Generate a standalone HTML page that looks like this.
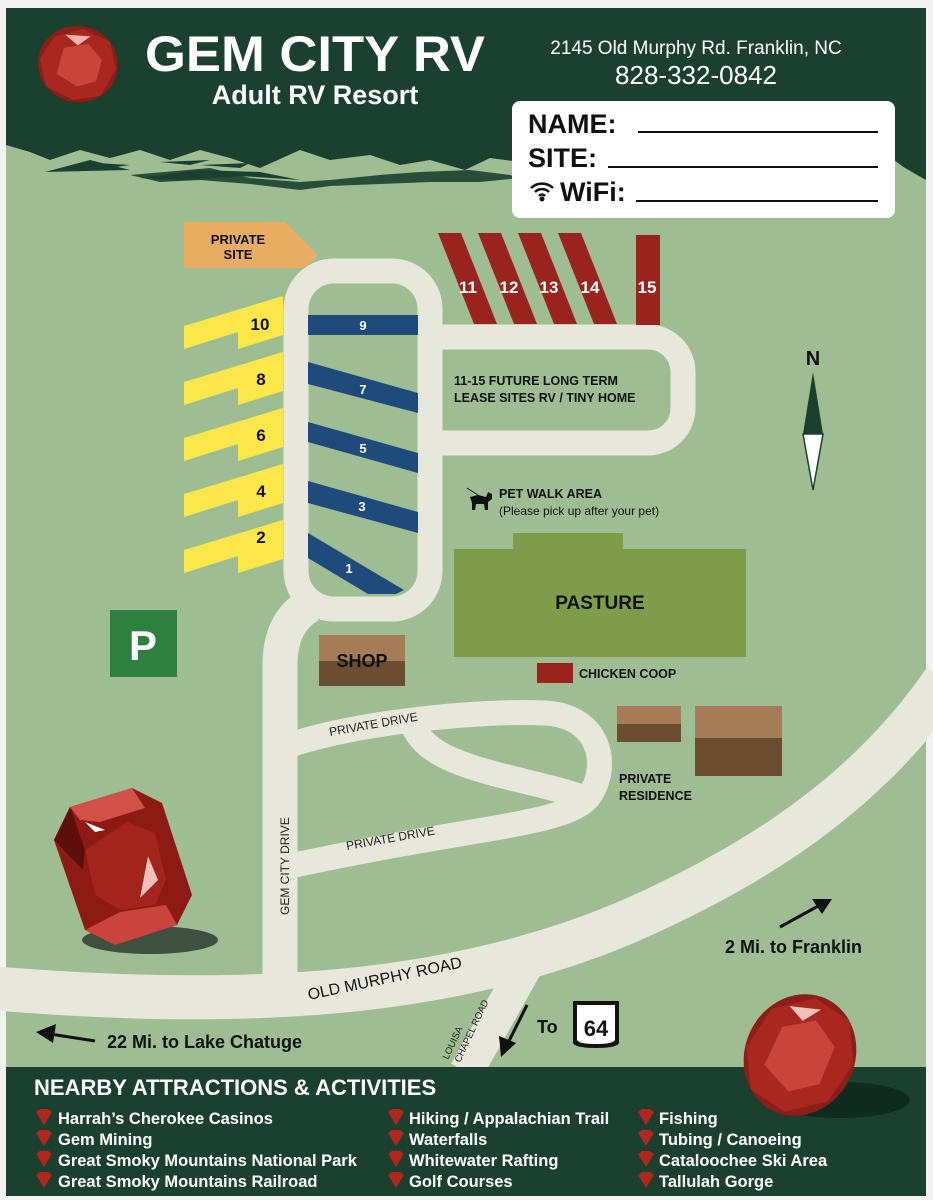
<!DOCTYPE html>
<html><head><meta charset="utf-8"><style>
html,body{margin:0;padding:0;background:#fff}
svg{display:block}
text{font-family:"Liberation Sans",sans-serif}
</style></head><body>
<svg width="933" height="1200" viewBox="0 0 933 1200" xmlns="http://www.w3.org/2000/svg">
<rect x="0" y="0" width="933" height="1200" fill="#f2f2f2"/>
<rect x="6" y="8" width="920" height="1188" fill="#9ebd93"/>
<!-- header -->
<path d="M6 8H926V180L905 168 880 150 850 152 820 140 790 160 760 150 730 172 700 165 660 140 620 150 585 180 560 175 520 162 490 158 465 170 430 160 400 165 370 155 330 160 300 150 260 168 230 158 200 150 170 160 140 150 110 158 80 150 50 160 30 152 6 145Z" fill="#1b4030"/>
<path d="M45 172 L90 160 130 170 Z M80 162 L130 165 110 168Z M140 178 L200 170 260 172 300 180 240 176 180 180Z M200 165 L250 163 240 168Z M160 162 L210 160 190 165Z" fill="#1b4030"/>
<path d="M130 175 L210 168 250 178 300 182 330 180 380 175 420 172 470 170 510 175 520 178 480 182 430 182 380 184 330 186 300 190 250 184 200 180 160 182 Z" fill="#1b4030" opacity="0.9"/>
<!-- header gem -->
<g transform="translate(78,64) rotate(15)">
<ellipse cx="0" cy="0" rx="40" ry="38" fill="#8c1d17"/>
<path d="M-30 -20 L-5 -35 25 -30 38 -5 30 25 5 36 -25 30 -38 5Z" fill="#a8271f"/>
<path d="M-18 -12 L5 -22 22 -10 22 12 5 22 -18 15Z" fill="#c9443a"/>
<path d="M-20 -25 L5 -30 -5 -18Z" fill="#f3b3ab"/>
</g>
<text x="315" y="71" font-size="50" font-weight="bold" fill="#fff" text-anchor="middle" textLength="340" lengthAdjust="spacingAndGlyphs">GEM CITY RV</text>
<text x="315" y="104" font-size="27" font-weight="bold" fill="#fff" text-anchor="middle">Adult RV Resort</text>
<text x="696" y="54" font-size="19" fill="#fff" text-anchor="middle">2145 Old Murphy Rd. Franklin, NC</text>
<text x="696" y="84" font-size="26" fill="#fff" text-anchor="middle">828-332-0842</text>
<rect x="512" y="101" width="383" height="117" rx="8" fill="#fff"/>
<text x="528" y="133" font-size="27" font-weight="bold" fill="#111">NAME:</text>
<rect x="638" y="131" width="240" height="2" fill="#111"/>
<text x="528" y="167" font-size="27" font-weight="bold" fill="#111">SITE:</text>
<rect x="608" y="166" width="270" height="2" fill="#111"/>
<g fill="none" stroke="#111" stroke-width="2.5"><path d="M531 188 A16 16 0 0 1 553 188"/><path d="M535 192 A10 10 0 0 1 549 192"/><path d="M539 196 A4 4 0 0 1 545 196"/></g>
<circle cx="542" cy="199" r="2.5" fill="#111"/>
<text x="560" y="201" font-size="27" font-weight="bold" fill="#111">WiFi:</text>
<rect x="636" y="200" width="242" height="2" fill="#111"/>

<!-- roads -->
<g fill="none" stroke="#e8e7dc" stroke-linecap="butt">
<path d="M-10 988 C 250 1010, 450 995, 620 925 C 760 865, 870 790, 945 680" stroke-width="44"/>
<path d="M280 990 L280 665 Q280 622 310 605" stroke-width="35"/>
<rect x="296" y="271" width="134" height="338" rx="38" stroke-width="25"/>
<path d="M430 337 H648 A35 35 0 0 1 683 372 V408 A35 35 0 0 1 648 443 H430" stroke-width="25"/>
<path d="M290 745 C 360 722, 480 710, 545 713 C 600 716, 610 765, 590 795 C 570 825, 480 825, 290 866" stroke-width="25"/>
<path d="M412 722 C 425 770, 520 775, 585 798" stroke-width="25"/>
<path d="M528 962 L466 1072" stroke-width="34"/>
</g>
<!-- road labels -->
<text transform="translate(289,915) rotate(-90)" font-size="12" fill="#222">GEM CITY DRIVE</text>
<text transform="translate(330,736) rotate(-10)" font-size="12" fill="#222">PRIVATE DRIVE</text>
<text transform="translate(347,850) rotate(-10)" font-size="12" fill="#222">PRIVATE DRIVE</text>
<text transform="translate(309,1000) rotate(-12)" font-size="16" fill="#111">OLD MURPHY ROAD</text>
<text transform="translate(448,1060) rotate(-65)" font-size="9.5" fill="#222">LOUISA</text>
<text transform="translate(460,1063) rotate(-65)" font-size="9.5" fill="#222">CHAPEL ROAD</text>

<!-- private site -->
<polygon points="184,222 285,222 318,255 305,268 184,268" fill="#e8ac62"/>
<text x="238" y="244" font-size="13" font-weight="bold" text-anchor="middle" fill="#111">PRIVATE</text>
<text x="238" y="259" font-size="13" font-weight="bold" text-anchor="middle" fill="#111">SITE</text>

<!-- yellow sites -->
<g fill="#fbe74a">
<polygon points="184,326 283,296 283,335 238,349 238,332 184,349"/>
<polygon points="184,382 283,352 283,391 238,405 238,388 184,405"/>
<polygon points="184,438 283,408 283,447 238,461 238,444 184,461"/>
<polygon points="184,494 283,464 283,503 238,517 238,500 184,517"/>
<polygon points="184,550 283,520 283,559 238,573 238,556 184,573"/>
</g>
<g font-size="17" font-weight="bold" fill="#111" text-anchor="middle">
<text x="260" y="330">10</text><text x="261" y="385">8</text><text x="261" y="441">6</text><text x="261" y="497">4</text><text x="261" y="543">2</text>
</g>
<!-- blue sites -->
<g fill="#1e4a7c">
<rect x="308" y="315" width="110" height="20"/>
<polygon points="308,362 418,393 418,413 308,384"/>
<polygon points="308,422 418,453 418,473 308,442"/>
<polygon points="308,481 418,512 418,533 308,503"/>
<polygon points="308,533 404,590 396,594 368,594 308,558"/>
</g>
<g font-size="13" font-weight="bold" fill="#fff" text-anchor="middle">
<text x="363" y="330">9</text><text x="363" y="394">7</text><text x="363" y="453">5</text><text x="362" y="511">3</text><text x="349" y="573">1</text>
</g>
<!-- red sites -->
<g fill="#9b231e">
<polygon points="438,233 461,233 497,324 474,324"/>
<polygon points="478,233 501,233 537,324 514,324"/>
<polygon points="518,233 541,233 577,324 554,324"/>
<polygon points="558,233 581,233 617,324 594,324"/>
<rect x="636" y="235" width="24" height="90"/>
</g>
<g font-size="17" font-weight="bold" fill="#fff" text-anchor="middle">
<text x="468" y="293">11</text><text x="509" y="293">12</text><text x="549" y="293">13</text><text x="590" y="293">14</text><text x="647" y="293">15</text>
</g>
<text x="454" y="385" font-size="12.5" font-weight="bold" fill="#111">11-15 FUTURE LONG TERM</text>
<text x="454" y="402" font-size="12.5" font-weight="bold" fill="#111">LEASE SITES RV / TINY HOME</text>
<!-- pet -->
<g fill="#111"><path d="M470 497 L478 495 486 497 488 492 492 494 492 499 488 502 488 510 485 510 484 504 476 504 475 510 472 510 472 503 Z"/></g>
<line x1="467" y1="488" x2="478" y2="495" stroke="#111" stroke-width="1"/>
<text x="499" y="498" font-size="12.5" font-weight="bold" fill="#111">PET WALK AREA</text>
<text x="499" y="515" font-size="12" fill="#111">(Please pick up after your pet)</text>
<!-- pasture -->
<rect x="513" y="533" width="110" height="20" fill="#7f9c4b"/>
<rect x="454" y="549" width="292" height="108" fill="#7f9c4b"/>
<text x="600" y="609" font-size="19" font-weight="bold" text-anchor="middle" fill="#111">PASTURE</text>
<rect x="537" y="663" width="36" height="20" fill="#9b231e"/>
<text x="579" y="678" font-size="12.5" font-weight="bold" fill="#111">CHICKEN COOP</text>
<!-- shop -->
<rect x="319" y="635" width="86" height="26" fill="#a57c57"/>
<rect x="319" y="661" width="86" height="25" fill="#6b4d31"/>
<text x="362" y="667" font-size="18" font-weight="bold" text-anchor="middle" fill="#111">SHOP</text>
<!-- residences -->
<rect x="617" y="706" width="64" height="18" fill="#a57c57"/><rect x="617" y="724" width="64" height="18" fill="#6b4d31"/>
<rect x="695" y="706" width="87" height="33" fill="#a57c57"/><rect x="695" y="738" width="87" height="38" fill="#6b4d31"/>
<text x="619" y="783" font-size="12.5" font-weight="bold" fill="#111">PRIVATE</text>
<text x="619" y="800" font-size="12.5" font-weight="bold" fill="#111">RESIDENCE</text>
<!-- P -->
<rect x="110" y="610" width="67" height="67" fill="#2e8040"/>
<text x="143" y="660" font-size="42" font-weight="bold" text-anchor="middle" fill="#fff">P</text>
<!-- N -->
<text x="813" y="365" font-size="20" font-weight="bold" text-anchor="middle" fill="#111">N</text>
<polygon points="813,372 803,434 823,434" fill="#1b4030"/>
<polygon points="803,434 823,434 813,490" fill="#fff" stroke="#1b4030" stroke-width="1.5"/>
<!-- big gem -->
<ellipse cx="150" cy="940" rx="68" ry="14" fill="#3f5040"/>
<polygon points="70,807 132,788 162,803 192,895 177,925 115,945 85,930 54,840" fill="#8e1a14"/>
<polygon points="70,807 132,788 145,808 100,822 80,820" fill="#d15048"/>
<polygon points="54,840 70,807 85,850 83,870" fill="#5e0f0b"/>
<polygon points="85,930 115,945 177,925 166,905 120,912" fill="#c9443c"/>
<polygon points="85,850 127,822 155,833 166,880 155,905 120,910 95,895" fill="#a2241d"/>
<polygon points="148,856 158,880 140,898" fill="#f3c0ba"/>
<polygon points="85,822 105,830 95,832" fill="#fff"/>
<!-- arrows -->
<g stroke="#111" stroke-width="3" fill="#111">
<line x1="780" y1="927" x2="820" y2="905"/><polygon points="832,899 812,899 822,914" stroke="none"/>
<line x1="95" y1="1041" x2="50" y2="1034"/><polygon points="36,1032 56,1024 53,1043" stroke="none"/>
<line x1="527" y1="1005" x2="507" y2="1045"/><polygon points="501,1057 499,1036 516,1043" stroke="none"/>
</g>
<text x="725" y="953" font-size="18" font-weight="bold" fill="#111">2 Mi. to Franklin</text>
<text x="107" y="1048" font-size="18" font-weight="bold" fill="#111">22 Mi. to Lake Chatuge</text>
<text x="537" y="1033" font-size="18" font-weight="bold" fill="#111">To</text>
<path d="M573 1001 H619 V1043 Q617 1048 596 1048 Q575 1048 573 1043 Z" fill="#111"/>
<path d="M577 1005 H615 V1040 Q613 1044 596 1044 Q579 1044 577 1040 Z" fill="#fff"/>
<text x="596" y="1036" font-size="22" font-weight="bold" text-anchor="middle" fill="#111">64</text>
<!-- bottom band -->
<rect x="6" y="1067" width="920" height="129" fill="#1b4030"/>
<!-- bottom right gem -->
<ellipse cx="840" cy="1100" rx="70" ry="18" fill="#0f2a1e"/>
<g transform="translate(800,1055) rotate(25)">
<ellipse cx="0" cy="0" rx="55" ry="62" fill="#8c1d17"/>
<path d="M-45 -30 L-10 -58 30 -52 52 -15 45 30 10 58 -30 52 -52 15Z" fill="#a8271f"/>
<path d="M-28 -18 L0 -38 28 -22 30 18 5 38 -28 24Z" fill="#c9443a"/>
<path d="M-30 -40 L0 -50 -12 -32Z" fill="#f3c0ba"/>
</g>
<text x="34" y="1095" font-size="22" font-weight="bold" fill="#fff">NEARBY ATTRACTIONS &amp; ACTIVITIES</text>
<defs><path id="gm" d="M-8 -6 L-4 -9 4 -9 8 -6 0 7Z"/></defs>
<g fill="#b1261e">
<use href="#gm" x="44" y="1118"/><use href="#gm" x="44" y="1139"/><use href="#gm" x="44" y="1160"/><use href="#gm" x="44" y="1181"/>
<use href="#gm" x="396" y="1118"/><use href="#gm" x="396" y="1139"/><use href="#gm" x="396" y="1160"/><use href="#gm" x="396" y="1181"/>
<use href="#gm" x="646" y="1118"/><use href="#gm" x="646" y="1139"/><use href="#gm" x="646" y="1160"/><use href="#gm" x="646" y="1181"/>
</g>
<g font-size="16.5" font-weight="bold" fill="#fff">
<text x="58" y="1124">Harrah’s Cherokee Casinos</text>
<text x="58" y="1145">Gem Mining</text>
<text x="58" y="1166">Great Smoky Mountains National Park</text>
<text x="58" y="1187">Great Smoky Mountains Railroad</text>
<text x="409" y="1124">Hiking / Appalachian Trail</text>
<text x="409" y="1145">Waterfalls</text>
<text x="409" y="1166">Whitewater Rafting</text>
<text x="409" y="1187">Golf Courses</text>
<text x="659" y="1124">Fishing</text>
<text x="659" y="1145">Tubing / Canoeing</text>
<text x="659" y="1166">Cataloochee Ski Area</text>
<text x="659" y="1187">Tallulah Gorge</text>
</g>
</svg>
</body></html>
